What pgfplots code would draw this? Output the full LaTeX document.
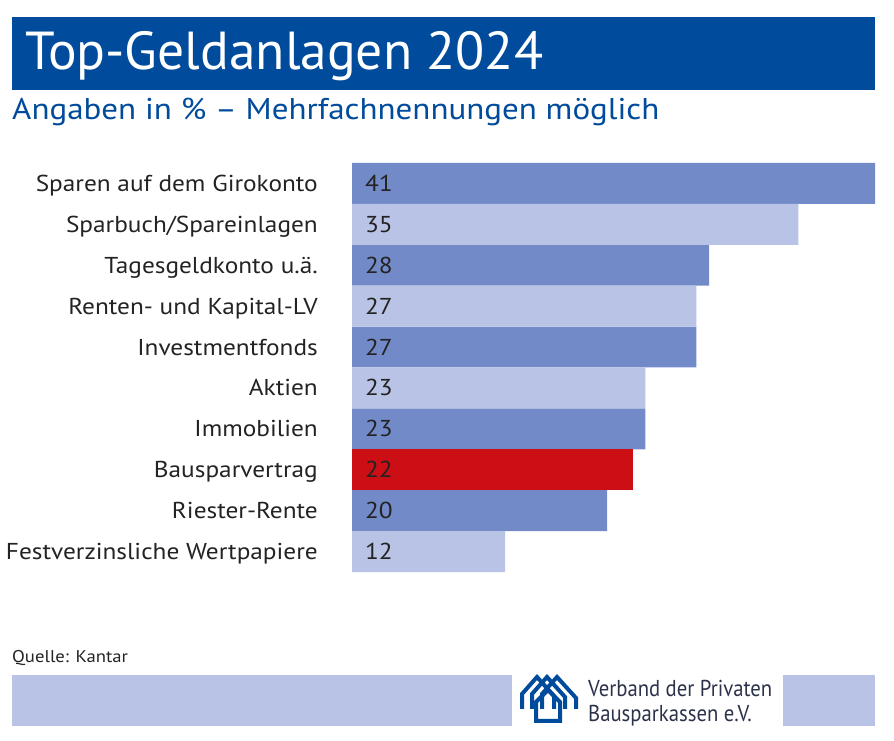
\documentclass[border=0pt]{standalone}
\usepackage{fontspec}
\setmainfont{PT Sans}[FakeStretch=1.1]
\newfontfamily\titlefont{PT Sans}
\newfontfamily\logofont{PT Sans}[FakeStretch=0.9]
\usepackage{pgfplots}
\pgfplotsset{compat=1.18}

\definecolor{vdpblue}{RGB}{0,75,155}
\definecolor{barmid}{RGB}{114,139,200}
\definecolor{barlight}{RGB}{185,195,229}
\definecolor{barred}{RGB}{204,15,20}
\definecolor{txt}{RGB}{35,35,35}
\definecolor{logotxt}{RGB}{45,50,75}

\begin{document}
\begin{tikzpicture}[x=1pt,y=1pt]
\path[use as bounding box] (0,0) rectangle (894,741);

% Kopf
\fill[vdpblue] (12,651) rectangle (875,724);
\node[anchor=base west, inner sep=0, text=white, font=\titlefont\fontsize{53.5}{60}\selectfont] at (25,671) {Top-Geldanlagen 2024};
\node[anchor=base west, inner sep=0, text=vdpblue, font=\fontsize{30}{36}\selectfont] at (12,621) {Angaben in \% – Mehrfachnennungen möglich};

\begin{axis}[
    at={(352pt,169pt)}, anchor=south west,
    scale only axis, width=523pt, height=409pt,
    xmin=0, xmax=41, ymin=0.5, ymax=10.5,
    y dir=reverse,
    bar width=40.9pt, bar shift=0pt,
    axis line style={draw=none},
    major tick style={draw=none},
    xtick=\empty,
    ytick={1,...,10},
    yticklabels={Sparen auf dem Girokonto, Sparbuch/Spareinlagen, Tagesgeldkonto u.ä.,
        Renten- und Kapital-LV, Investmentfonds, Aktien, Immobilien, Bausparvertrag,
        Riester-Rente, Festverzinsliche Wertpapiere},
    yticklabel style={font=\fontsize{23}{27}\selectfont, text=txt, inner sep=0pt,
        anchor=east, xshift=-34pt, text height=16pt, text depth=0pt},
    clip=false,
]
\addplot[xbar, fill=barmid, draw=none] coordinates {(41,1) (28,3) (27,5) (23,7) (20,9)};
\addplot[xbar, fill=barlight, draw=none] coordinates {(35,2) (27,4) (23,6) (12,10)};
\addplot[xbar, fill=barred, draw=none] coordinates {(22,8)};
% Werte
\addplot[draw=none, mark=none, nodes near coords, point meta=explicit symbolic,
    every node near coord/.style={anchor=west, inner sep=0pt, xshift=13pt,
        text=txt, font=\fontsize{23}{27}\selectfont, text height=16pt, text depth=0pt}]
    coordinates {(0,1)[41] (0,2)[35] (0,3)[28] (0,4)[27] (0,5)[27]
                 (0,6)[23] (0,7)[23] (0,8)[22] (0,9)[20] (0,10)[12]};
\end{axis}

% Fuss
\node[anchor=base west, inner sep=0, text=txt, font=\fontsize{17}{20}\selectfont] at (12,78) {Quelle: Kantar};
\fill[barlight] (12,15) rectangle (512,66);
\fill[barlight] (783,15) rectangle (875,66);

% Logo
\begin{scope}[vdpblue, line width=4pt, line join=miter, yscale=-1, yshift=-741pt]
  \draw (522,709) -- (522,694) -- (537,677) -- (554,696) -- (554,709);
  \draw (532,709) -- (532,694) -- (547,677) -- (565,697) -- (565,709);
  \draw (542,709) -- (542,694) -- (557,677) -- (576,698) -- (576,709);
  \draw (536,721) -- (536,702) -- (548,690) -- (560,702) -- (560,721) -- cycle;
\end{scope}
\node[anchor=base west, inner sep=0, text=logotxt, font=\logofont\fontsize{23}{27}\selectfont] at (588,44) {Verband der Privaten};
\node[anchor=base west, inner sep=0, text=logotxt, font=\logofont\fontsize{23}{27}\selectfont] at (588,19) {Bausparkassen e.V.};
\end{tikzpicture}
\end{document}
